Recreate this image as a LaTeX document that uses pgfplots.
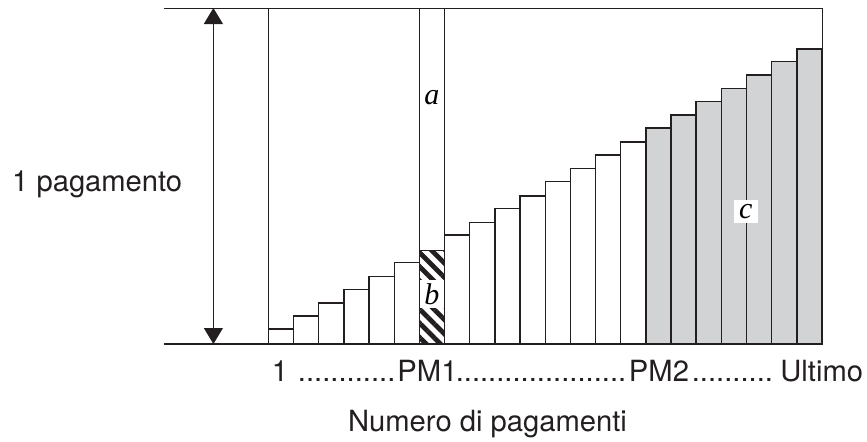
\documentclass[border=0pt]{standalone}
\usepackage{fontspec}
\setmainfont{TeX Gyre Heros}
\newfontfamily\tnr{Liberation Serif}
\usepackage{pgfplots}
\pgfplotsset{compat=1.18}
\usetikzlibrary{patterns,patterns.meta,arrows.meta}
\definecolor{ink}{HTML}{231F20}
\definecolor{barfill}{HTML}{D1D3D4}
\begin{document}
\begin{tikzpicture}
\path[use as bounding box] (0,0) rectangle (433.5pt,220.5pt);
\begin{axis}[
  at={(82pt,48.5pt)}, anchor=south west,
  scale only axis, width=329pt, height=168pt,
  xmin=-3.65, xmax=22.5, ymin=0, ymax=1,
  hide axis, clip=false,
]
% white bars
\addplot[ybar, bar width=1, bar shift=0pt, draw=ink, line width=0.7pt, fill=white] coordinates {
(1,0.045) (2,0.083) (3,0.122) (4,0.162) (5,0.201) (6,0.242)
(8,0.324) (9,0.362) (10,0.404) (11,0.441) (12,0.483) (13,0.522) (14,0.5625) (15,0.601)
};
% hatched bar PM1
\addplot[ybar, bar width=1, bar shift=0pt, draw=ink, line width=0.7pt,
  pattern={Lines[angle=-45,distance=5pt,line width=2.4pt]}, pattern color=ink] coordinates {
(7,0.279)
};
% grey bars
\addplot[ybar, bar width=1, bar shift=0pt, draw=ink, line width=0.7pt, fill=barfill] coordinates {
(16,0.643) (17,0.681) (18,0.721) (19,0.760) (20,0.801) (21,0.840) (22,0.878)
};
% frame lines
\draw[ink, line width=0.6pt] (axis cs:-3.65,0) -- (axis cs:22.5,0);
\draw[ink, line width=0.5pt] (axis cs:-3.65,1) -- (axis cs:22.5,1) -- (axis cs:22.5,0.878);
\draw[ink, line width=0.5pt] (axis cs:0.5,1) -- (axis cs:0.5,0);
\draw[ink, line width=0.5pt] (axis cs:6.5,1) -- (axis cs:6.5,0.279);
\draw[ink, line width=0.5pt] (axis cs:7.5,1) -- (axis cs:7.5,0.279);
% double arrow
\draw[ink, line width=0.55pt, {Triangle[width=9.5pt,length=8pt]}-{Triangle[width=9.5pt,length=8pt]}]
  (axis cs:-1.687,0) -- (axis cs:-1.687,1);
% letters
\node[inner sep=0pt, font={\tnr\itshape\fontsize{15}{15}\selectfont}] at (axis cs:7,0.7336) {a};
\node[fill=white, inner sep=0pt, minimum width=11.9pt, minimum height=14.15pt,
  font={\tnr\itshape\fontsize{15}{15}\selectfont}] at (axis cs:7,0.1484) {b};
\node[fill=white, inner sep=0pt, minimum width=12.2pt, minimum height=11.7pt,
  font={\tnr\itshape\fontsize{15}{15}\selectfont}] at (axis cs:19.47,0.3938) {c};
\end{axis}
\begin{scope}[every node/.style={inner sep=0pt, anchor=base, text=ink, font=\fontsize{14.6}{17}\selectfont}]
\node at (48.6pt,124.65pt) {1 pagamento};
\node at (140pt,29.65pt) {1};
\node at (173.35pt,29.65pt) {............};
\node at (213.75pt,29.65pt) {PM1};
\node at (270.5pt,29.65pt) {.....................};
\node at (329.5pt,29.65pt) {PM2};
\node at (366.2pt,29.65pt) {..........};
\node at (410.85pt,29.65pt) {Ultimo};
\node at (243.75pt,5pt) {Numero di pagamenti};
\end{scope}
\end{tikzpicture}
\end{document}
